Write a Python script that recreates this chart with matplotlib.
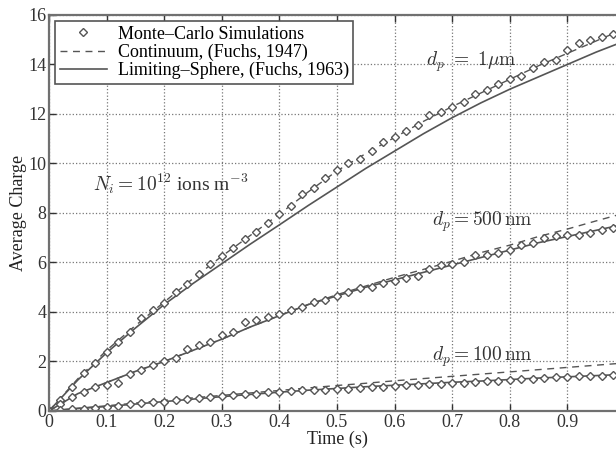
import matplotlib
matplotlib.use('Agg')
import matplotlib.pyplot as plt

plt.rcParams['font.family'] = ['Liberation Serif', 'DejaVu Serif']
plt.rcParams['mathtext.fontset'] = 'cm'

# Monte-Carlo sample times
t_mc = [0.00, 0.02, 0.04, 0.06, 0.08, 0.10, 0.12, 0.14, 0.16, 0.18,
        0.20, 0.22, 0.24, 0.26, 0.28, 0.30, 0.32, 0.34, 0.36, 0.38,
        0.40, 0.42, 0.44, 0.46, 0.48, 0.50, 0.52, 0.54, 0.56, 0.58,
        0.60, 0.62, 0.64, 0.66, 0.68, 0.70, 0.72, 0.74, 0.76, 0.78,
        0.80, 0.82, 0.84, 0.86, 0.88, 0.90, 0.92, 0.94, 0.96, 0.98]

mc_1um = [0.0, 0.45, 0.95, 1.55, 1.95, 2.4, 2.8, 3.2, 3.75, 4.1,
          4.35, 4.8, 5.15, 5.55, 5.95, 6.25, 6.6, 6.95, 7.25, 7.6,
          7.95, 8.3, 8.75, 9.0, 9.4, 9.75, 10.0, 10.2, 10.5, 10.85,
          11.05, 11.3, 11.55, 11.95, 12.1, 12.3, 12.5, 12.8, 12.95, 13.2,
          13.4, 13.55, 13.85, 14.1, 14.2, 14.6, 14.85, 15.0, 15.1, 15.25]

mc_500nm = [0.0, 0.3, 0.58, 0.75, 0.95, 1.05, 1.15, 1.5, 1.65, 1.85,
            2.0, 2.15, 2.5, 2.65, 2.8, 3.05, 3.2, 3.6, 3.68, 3.78,
            3.9, 4.1, 4.22, 4.42, 4.5, 4.65, 4.82, 4.96, 5.02, 5.16,
            5.25, 5.38, 5.45, 5.75, 5.9, 5.92, 6.0, 6.3, 6.32, 6.4,
            6.52, 6.7, 6.8, 6.98, 7.05, 7.1, 7.12, 7.2, 7.32, 7.4]

mc_100nm = [0.0, 0.05, 0.08, 0.1, 0.13, 0.17, 0.2, 0.27, 0.31, 0.36,
            0.38, 0.45, 0.5, 0.52, 0.55, 0.6, 0.65, 0.67, 0.7, 0.75,
            0.78, 0.8, 0.85, 0.85, 0.86, 0.87, 0.9, 0.92, 0.96, 0.98,
            1.02, 1.05, 1.06, 1.08, 1.1, 1.12, 1.15, 1.17, 1.2, 1.22,
            1.25, 1.28, 1.3, 1.33, 1.36, 1.39, 1.4, 1.42, 1.43, 1.45]

# theory curves
t_th = [0.0, 0.05, 0.1, 0.15, 0.2, 0.25, 0.3, 0.35, 0.4, 0.45, 0.5,
        0.55, 0.6, 0.65, 0.7, 0.75, 0.8, 0.85, 0.9, 0.95, 1.0]

cont_1um = [0.0, 1.3, 2.45, 3.45, 4.4, 5.35, 6.25, 7.1, 7.95, 8.85, 9.7,
            10.4, 11.05, 11.7, 12.3, 12.85, 13.4, 13.95, 14.45, 14.95, 15.45]
ls_1um = [0.0, 1.25, 2.35, 3.35, 4.3, 5.15, 5.95, 6.75, 7.52, 8.3, 9.05,
          9.8, 10.5, 11.2, 11.85, 12.45, 13.0, 13.5, 14.0, 14.5, 14.95]

cont_500nm = [0.0, 0.7, 1.15, 1.6, 2.0, 2.45, 2.9, 3.4, 3.85, 4.3, 4.7,
              5.05, 5.4, 5.72, 6.05, 6.4, 6.7, 7.05, 7.35, 7.68, 8.0]
ls_500nm = [0.0, 0.7, 1.15, 1.6, 2.0, 2.45, 2.9, 3.4, 3.85, 4.3, 4.65,
            5.0, 5.3, 5.6, 5.9, 6.2, 6.5, 6.8, 7.05, 7.3, 7.55]

cont_100nm = [0.0, 0.11, 0.21, 0.32, 0.43, 0.53, 0.63, 0.73, 0.83, 0.93, 1.03,
              1.12, 1.22, 1.31, 1.4, 1.49, 1.58, 1.67, 1.76, 1.85, 1.94]
ls_100nm = [0.0, 0.1, 0.18, 0.28, 0.38, 0.48, 0.58, 0.67, 0.76, 0.84, 0.91,
            0.98, 1.04, 1.1, 1.16, 1.21, 1.27, 1.33, 1.38, 1.43, 1.48]

dark = '#555555'
fig = plt.figure(figsize=(6.16, 4.5), dpi=100)
# axes runs a little past the right edge, like the cropped original
ax = fig.add_axes([0.0795, 0.0867, 0.935, 0.88])

mkw = dict(linestyle='none', marker='D', markersize=4.5, markerfacecolor='white',
           markeredgecolor=dark, markeredgewidth=1.0)

for cont, ls, mc in [(cont_1um, ls_1um, mc_1um),
                     (cont_500nm, ls_500nm, mc_500nm),
                     (cont_100nm, ls_100nm, mc_100nm)]:
    ax.plot(t_th, cont, '--', color=dark, lw=1.0, dashes=(5, 4))
    ax.plot(t_th, ls, '-', color=dark, lw=1.2)
    ax.plot(t_mc, mc, **mkw)

# legend handles
h1, = ax.plot([], [], **mkw)
h2, = ax.plot([], [], '--', color=dark, lw=1.0, dashes=(5, 4))
h3, = ax.plot([], [], '-', color=dark, lw=1.2)
leg = ax.legend([h1, h2, h3],
                ['Monte\u2013Carlo Simulations', 'Continuum, (Fuchs, 1947)',
                 'Limiting\u2013Sphere, (Fuchs, 1963)'],
                loc='upper left', fontsize=13, fancybox=False, framealpha=1,
                edgecolor=dark, handlelength=2.6, borderpad=0.25,
                labelspacing=0.05, borderaxespad=0.35, handletextpad=0.6)
leg.get_frame().set_linewidth(1.2)

ax.text(0.734, 14.1, r'$d_p\ =\ 1\mu\mathrm{m}$', fontsize=14, ha='center', va='center', color='#333333')
ax.text(0.753, 7.64, r'$d_p = 500\,\mathrm{nm}$', fontsize=14, ha='center', va='center', color='#333333')
ax.text(0.753, 2.2, r'$d_p = 100\,\mathrm{nm}$', fontsize=14, ha='center', va='center', color='#333333')
ax.text(0.076, 9.2, r'$N_i = 10^{12}$ ions m$^{-3}$', fontsize=14, ha='left', va='center', color='#333333')

ax.set_xlim(0, 1)
ax.set_ylim(0, 16)
ax.set_xticks([0, 0.1, 0.2, 0.3, 0.4, 0.5, 0.6, 0.7, 0.8, 0.9, 1.0])
ax.set_xticklabels(['0', '0.1', '0.2', '0.3', '0.4', '0.5', '0.6', '0.7', '0.8', '0.9', ''])
ax.set_yticks([0, 2, 4, 6, 8, 10, 12, 14, 16])
ax.grid(True, linestyle=':', color='#777777', lw=0.9)
ax.tick_params(direction='in', top=True, right=True, length=5, width=1.0,
               colors='#333333', labelsize=13, pad=2)
for s in ax.spines.values():
    s.set_color('#707070')
    s.set_linewidth(1.6)
ax.set_xlabel('Time (s)', fontsize=13, labelpad=0, color='#222222')
ax.set_ylabel('Average Charge', fontsize=13, labelpad=1, color='#222222')

plt.savefig('out.png', dpi=100)
